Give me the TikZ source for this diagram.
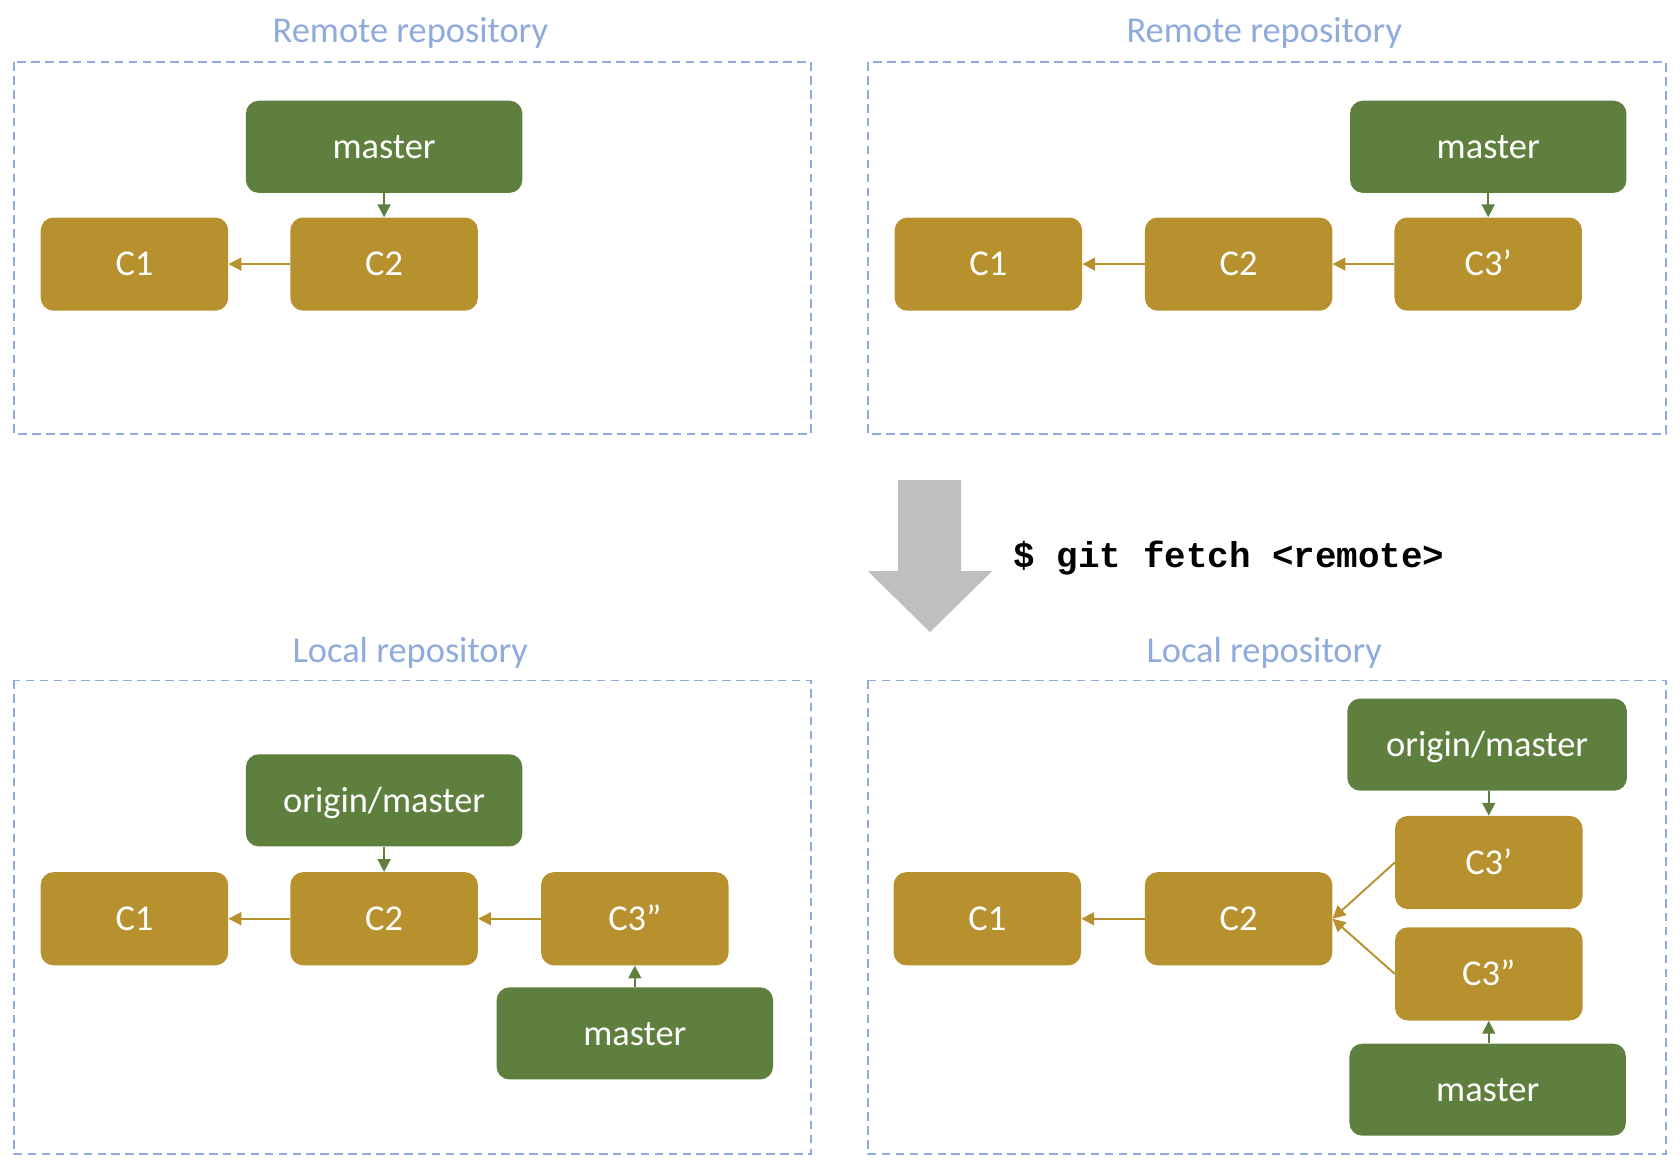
\documentclass[tikz,border=0pt]{standalone}
\usepackage{fontspec}
\setmainfont{Carlito}
\newfontfamily\monofont{Liberation Mono}
\usetikzlibrary{arrows.meta}
\definecolor{brgreen}{HTML}{5F7F3F}
\definecolor{cmgold}{HTML}{B8912F}
\definecolor{lblue}{HTML}{8FAADC}
\definecolor{bigarrow}{HTML}{BFBFBF}
\tikzset{
  boxtext/.style={text=white, font=\fontsize{34}{40}\selectfont, text height=22pt, text depth=0pt},
  commit/.style={boxtext, fill=cmgold, rounded corners=12pt, minimum width=175pt, minimum height=87pt, inner sep=0pt},
  branch/.style={boxtext, fill=brgreen, rounded corners=12pt, minimum width=258pt, minimum height=86pt, inner sep=0pt},
  title/.style={text=lblue, font=\fontsize{34}{40}\selectfont, inner sep=0pt},
  repobox/.style={draw=lblue, line width=1.5pt, dash pattern=on 8pt off 5pt},
  carrow/.style={draw=cmgold, line width=1.8pt, -{Triangle[length=12pt,width=12pt]}},
  garrow/.style={draw=brgreen, line width=1.8pt, -{Triangle[length=12pt,width=12pt]}},
}
\begin{document}
\begin{tikzpicture}[x=1pt,y=-1pt]
\useasboundingbox (0,0) rectangle (1568,1092);
% ---------- top left ----------
\node[title] (t1) at (383,31) {Remote repository};
\draw[repobox] (13,58) rectangle (757,405);
\node[branch] (m1) at (358.5,137) {master};
\node[commit] (a1) at (125.5,246.5) {C1};
\node[commit] (a2) at (358.5,246.5) {C2};
\draw[garrow] (m1.south) -- (a2.north);
\draw[carrow] (a2.west) -- (a1.east);
% ---------- top right ----------
\node[title] (t2) at (1180,31) {Remote repository};
\draw[repobox] (810,58) rectangle (1555,405);
\node[branch] (m2) at (1389,137) {master};
\node[commit] (b1) at (922.5,246.5) {C1};
\node[commit] (b2) at (1156,246.5) {C2};
\node[commit] (b3) at (1389,246.5) {C3’};
\draw[garrow] (m2.south) -- (b3.north);
\draw[carrow] (b3.west) -- (b2.east);
\draw[carrow] (b2.west) -- (b1.east);
% ---------- big arrow and command ----------
\fill[bigarrow] (838,448) -- (897,448) -- (897,533) -- (926,533) -- (868,590) -- (810,533) -- (838,533) -- cycle;
\node[anchor=west, inner sep=0pt, font=\monofont\bfseries\fontsize{33.5}{40}\selectfont] (cmd) at (946,521) {\$ git fetch <remote>};
% ---------- bottom left ----------
\node[title] (t3) at (383,609) {Local repository};
\draw[repobox] (13,635) rectangle (757,1077);
\node[branch] (o3) at (358.5,747) {origin/master};
\node[commit] (c1) at (125.5,857.5) {C1};
\node[commit] (c2) at (358.5,857.5) {C2};
\node[commit] (c3) at (592.5,857.5) {C3”};
\node[branch] (m3) at (592.5,964.5) {master};
\draw[garrow] (o3.south) -- (c2.north);
\draw[carrow] (c2.west) -- (c1.east);
\draw[carrow] (c3.west) -- (c2.east);
\draw[garrow] (m3.north) -- (c3.south);
% ---------- bottom right ----------
\node[title] (t4) at (1180,609) {Local repository};
\draw[repobox] (810,635) rectangle (1555,1077);
\node[branch, minimum width=261pt] (o4) at (1388,695) {origin/master};
\node[commit] (d1) at (921.5,857.5) {C1};
\node[commit] (d2) at (1156,857.5) {C2};
\node[commit] (d3) at (1389.5,805) {C3’};
\node[commit] (d4) at (1389.5,909) {C3”};
\node[branch] (m4) at (1388.5,1017) {master};
\draw[garrow] (o4.south -| d3.north) -- (d3.north);
\draw[carrow] (d2.west) -- (d1.east);
\draw[carrow] (d3.west) -- (d2.east);
\draw[carrow] (d4.west) -- (d2.east);
\draw[garrow] (m4.north -| d4.south) -- (d4.south);
\end{tikzpicture}
\end{document}
